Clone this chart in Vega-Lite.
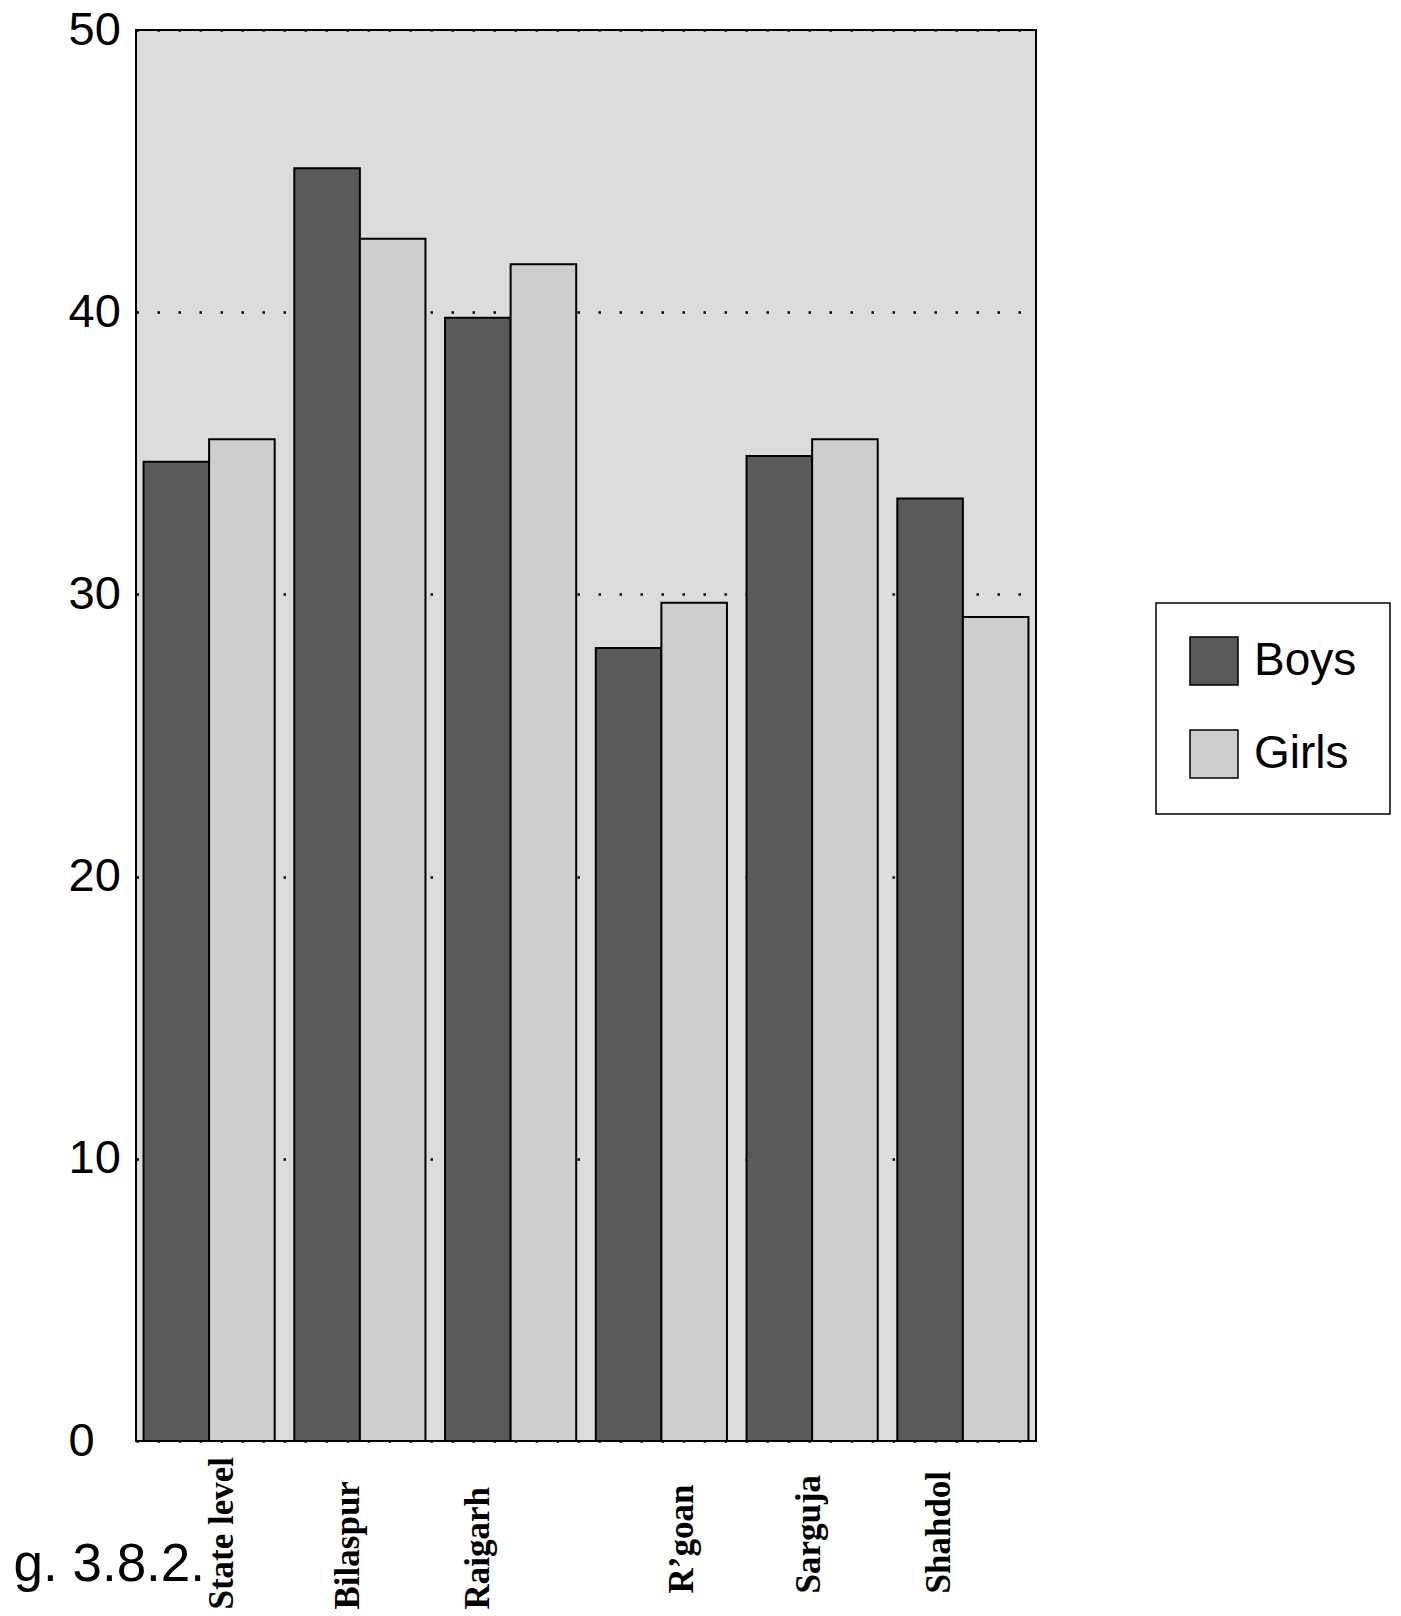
{
  "$schema": "https://vega.github.io/schema/vega-lite/v6.json",
  "autosize": {"type": "none"},
  "padding": {"left": 136, "top": 30, "right": 365, "bottom": 175},
  "width": 900,
  "height": 1411,
  "background": "white",
  "config": {
    "view": {"fill": "#dcdcdc", "stroke": "black", "strokeWidth": 2}
  },
  "data": {
    "values": [
      {"district": "State level", "gender": "Boys", "value": 34.7},
      {"district": "State level", "gender": "Girls", "value": 35.5},
      {"district": "Bilaspur", "gender": "Boys", "value": 45.1},
      {"district": "Bilaspur", "gender": "Girls", "value": 42.6},
      {"district": "Raigarh", "gender": "Boys", "value": 39.8},
      {"district": "Raigarh", "gender": "Girls", "value": 41.7},
      {"district": "R’goan", "gender": "Boys", "value": 28.1},
      {"district": "R’goan", "gender": "Girls", "value": 29.7},
      {"district": "Sarguja", "gender": "Boys", "value": 34.9},
      {"district": "Sarguja", "gender": "Girls", "value": 35.5},
      {"district": "Shahdol", "gender": "Boys", "value": 33.4},
      {"district": "Shahdol", "gender": "Girls", "value": 29.2}
    ]
  },
  "mark": {"type": "bar", "stroke": "black", "strokeWidth": 2},
  "encoding": {
    "x": {
      "field": "district",
      "type": "nominal",
      "sort": ["State level", "Bilaspur", "Raigarh", "R’goan", "Sarguja", "Shahdol"],
      "scale": {"paddingInner": 0.13, "paddingOuter": 0.05},
      "axis": {
        "title": null,
        "domain": false,
        "ticks": false,
        "tickSize": 0,
        "labelAngle": 270,
        "labelAlign": "left",
        "labelBaseline": "middle",
        "labelPadding": {
          "condition": [
            {"test": "datum.value === 'State level' || datum.value === 'Bilaspur' || datum.value === 'Raigarh'", "value": 168}
          ],
          "value": 152
        },
        "labelOffset": {
          "condition": [
            {"test": "datum.value === 'State level'", "value": 13},
            {"test": "datum.value === 'Bilaspur'", "value": -12},
            {"test": "datum.value === 'Raigarh'", "value": -33},
            {"test": "datum.value === 'R’goan'", "value": 21},
            {"test": "datum.value === 'Sarguja'", "value": -3},
            {"test": "datum.value === 'Shahdol'", "value": -24}
          ],
          "value": 0
        },
        "labelFont": "Liberation Serif",
        "labelFontWeight": "bold",
        "labelFontSize": 35,
        "labelColor": "black",
        "labelLimit": 400
      }
    },
    "xOffset": {
      "field": "gender",
      "type": "nominal",
      "sort": ["Boys", "Girls"],
      "scale": {"paddingInner": 0, "paddingOuter": 0}
    },
    "y": {
      "field": "value",
      "type": "quantitative",
      "scale": {"domain": [0, 50], "nice": false},
      "axis": {
        "values": [0, 10, 20, 30, 40, 50],
        "domain": false,
        "ticks": false,
        "tickSize": 0,
        "grid": true,
        "gridColor": "black",
        "gridDash": [2.5, 18.5],
        "gridWidth": 2.5,
        "gridOpacity": 1,
        "labelAlign": "left",
        "labelBaseline": "middle",
        "labelPadding": 68,
        "labelFont": "Liberation Sans",
        "labelFontSize": 47,
        "labelColor": "black",
        "title": "g. 3.8.2.",
        "titleAngle": 0,
        "titleAlign": "left",
        "titleBaseline": "alphabetic",
        "titleX": -123,
        "titleY": 1550,
        "titleFont": "Liberation Sans",
        "titleFontSize": 53,
        "titleFontWeight": "normal",
        "titleColor": "black"
      }
    },
    "color": {
      "field": "gender",
      "type": "nominal",
      "scale": {"domain": ["Boys", "Girls"], "range": ["#5a5a5a", "#cecece"]},
      "legend": {
        "title": null,
        "orient": "none",
        "legendX": 1020,
        "legendY": 573,
        "symbolType": "square",
        "symbolSize": 2304,
        "symbolStrokeColor": "black",
        "symbolStrokeWidth": 1.5,
        "symbolOpacity": 1,
        "labelFont": "Liberation Sans",
        "labelFontSize": 46,
        "labelColor": "black",
        "labelOffset": 15,
        "rowPadding": 39,
        "padding": 33,
        "strokeColor": "black",
        "fillColor": "white",
        "encode": {"legend": {"update": {"strokeWidth": {"value": 1.5}}}}
      }
    }
  }
}
